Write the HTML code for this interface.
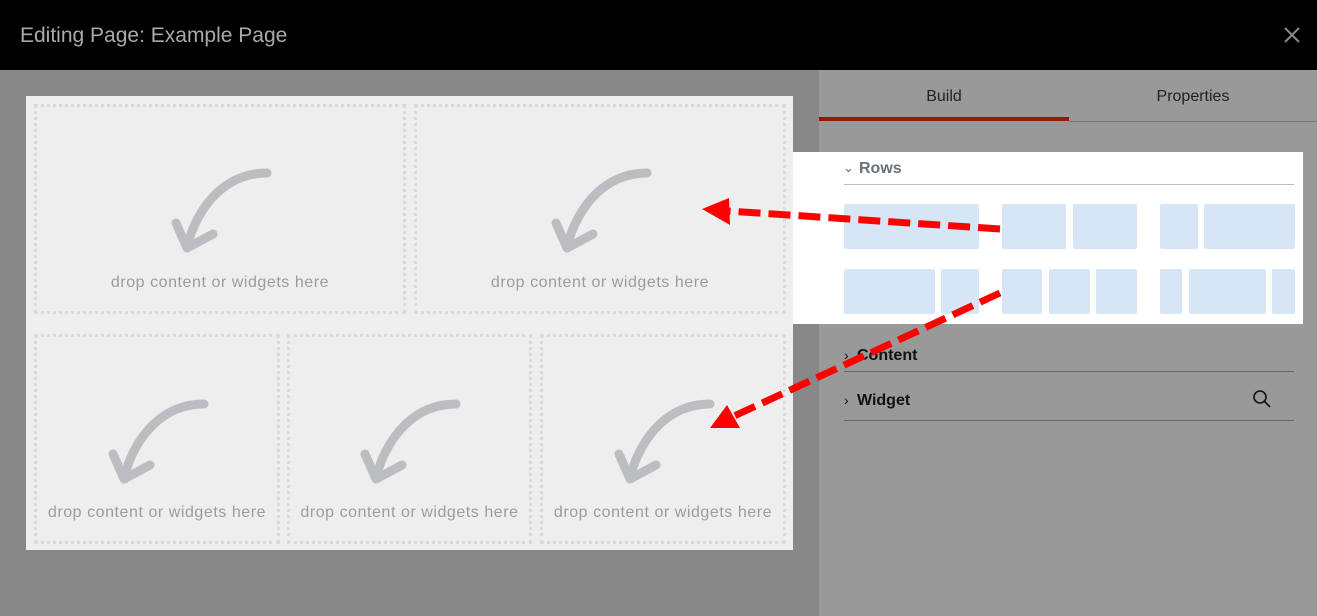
<!DOCTYPE html>
<html><head><style>
body{margin:0;width:1317px;height:616px;position:relative;overflow:hidden;font-family:"Liberation Sans",sans-serif;background:#888}
.hdr{position:absolute;left:0;top:0;width:1317px;height:70px;background:#000;color:#aaa;font-size:21px}
.right{position:absolute;left:819px;top:70px;width:498px;height:546px;background:#999}
.frame{position:absolute;left:26px;top:96px;width:767px;height:454px;background:#eee}
.cell{position:absolute;border:3px dotted #dadada;box-sizing:border-box}
.cell span{position:absolute;left:-10px;right:-10px;text-align:center;color:#9a9ca2;font-size:16px;letter-spacing:0.55px}
.rows{position:absolute;left:793px;top:152px;width:510px;height:172px;background:#fff}
.b{position:absolute;background:#d6e6f7;border-radius:2px}
</style></head><body>
<div class="hdr"><div style="position:absolute;left:20px;top:24px">Editing Page: Example Page</div>
<svg style="position:absolute;left:1284px;top:27px" width="16" height="16"><path d="M1 1L15 15M15 1L1 15" stroke="#888" stroke-width="2"/></svg></div>
<div class="right">
<div style="position:absolute;left:0;width:250px;top:18px;text-align:center;font-size:16px;color:#222">Build</div>
<div style="position:absolute;left:250px;width:248px;top:18px;text-align:center;font-size:16px;color:#222">Properties</div>
<div style="position:absolute;left:0;top:47px;width:250px;height:4px;background:#941a00"></div>
<div style="position:absolute;left:250px;top:51px;width:248px;height:1px;background:#777"></div>
<div style="position:absolute;left:25px;top:301px;width:450px;height:1px;background:#666"></div>
<div style="position:absolute;left:25px;top:350px;width:450px;height:1px;background:#666"></div>
<div style="position:absolute;left:25px;top:277px;font-size:14px;color:#111">›</div>
<div style="position:absolute;left:38px;top:277px;font-size:16px;font-weight:bold;color:#111">Content</div>
<div style="position:absolute;left:25px;top:322px;font-size:14px;color:#111">›</div>
<div style="position:absolute;left:38px;top:322px;font-size:16px;font-weight:bold;color:#111">Widget</div>
<svg style="position:absolute;left:433px;top:319px" width="22" height="22"><circle cx="8" cy="8" r="6" fill="none" stroke="#111" stroke-width="1.6"/><line x1="12.5" y1="12.5" x2="18" y2="18" stroke="#111" stroke-width="1.6"/></svg>
</div>
<div class="rows">
<div style="position:absolute;left:50px;top:8px;font-size:13px;color:#666">⌄</div>
<div style="position:absolute;left:66px;top:8px;font-size:16px;font-weight:bold;color:#6b6f78">Rows</div>
<div style="position:absolute;left:51px;top:32px;width:450px;height:1px;background:#bbb"></div>
<div class="b" style="left:51px;top:52px;width:135px;height:45px"></div>
<div class="b" style="left:209px;top:52px;width:64px;height:45px"></div>
<div class="b" style="left:280px;top:52px;width:64px;height:45px"></div>
<div class="b" style="left:367px;top:52px;width:38px;height:45px"></div>
<div class="b" style="left:411px;top:52px;width:91px;height:45px"></div>
<div class="b" style="left:51px;top:117px;width:91px;height:45px"></div>
<div class="b" style="left:148px;top:117px;width:38px;height:45px"></div>
<div class="b" style="left:209px;top:117px;width:40px;height:45px"></div>
<div class="b" style="left:256px;top:117px;width:41px;height:45px"></div>
<div class="b" style="left:303px;top:117px;width:41px;height:45px"></div>
<div class="b" style="left:367px;top:117px;width:22px;height:45px"></div>
<div class="b" style="left:396px;top:117px;width:77px;height:45px"></div>
<div class="b" style="left:479px;top:117px;width:23px;height:45px"></div>
</div>
<div class="frame"></div>
<svg width="0" height="0" style="position:absolute"><defs><g id="ar"><path d="M0 0 C-40 0 -68 30 -80 73" fill="none" stroke="#bcbdc1" stroke-width="9" stroke-linecap="round"/><path d="M-91 50 L-80 75 L-54 61" fill="none" stroke="#bcbdc1" stroke-width="9" stroke-linecap="round" stroke-linejoin="round"/></g></defs></svg>
<div class="cell" style="left:34px;top:104px;width:372px;height:210px"><span style="top:167px">drop content or widgets here</span></div>
<div class="cell" style="left:414px;top:104px;width:372px;height:210px"><span style="top:167px">drop content or widgets here</span></div>
<div class="cell" style="left:34px;top:334px;width:246px;height:210px"><span style="top:167px">drop content or widgets here</span></div>
<div class="cell" style="left:287px;top:334px;width:245px;height:210px"><span style="top:167px">drop content or widgets here</span></div>
<div class="cell" style="left:540px;top:334px;width:246px;height:210px"><span style="top:167px">drop content or widgets here</span></div>
<svg style="position:absolute;left:0;top:0" width="1317" height="616">
<use href="#ar" x="267" y="173"/><use href="#ar" x="647" y="173"/>
<use href="#ar" x="204" y="404"/><use href="#ar" x="456" y="404"/><use href="#ar" x="710" y="404"/>
<line x1="1000" y1="229" x2="728" y2="211" stroke="#f00" stroke-width="7" stroke-dasharray="22,8"/>
<polygon points="702,209 729,198 730,225" fill="#f00"/>
<line x1="1000" y1="293" x2="732" y2="417" stroke="#f00" stroke-width="7" stroke-dasharray="22,8"/>
<polygon points="710,428 727,405 740,428" fill="#f00"/>
</svg>
</body></html>
